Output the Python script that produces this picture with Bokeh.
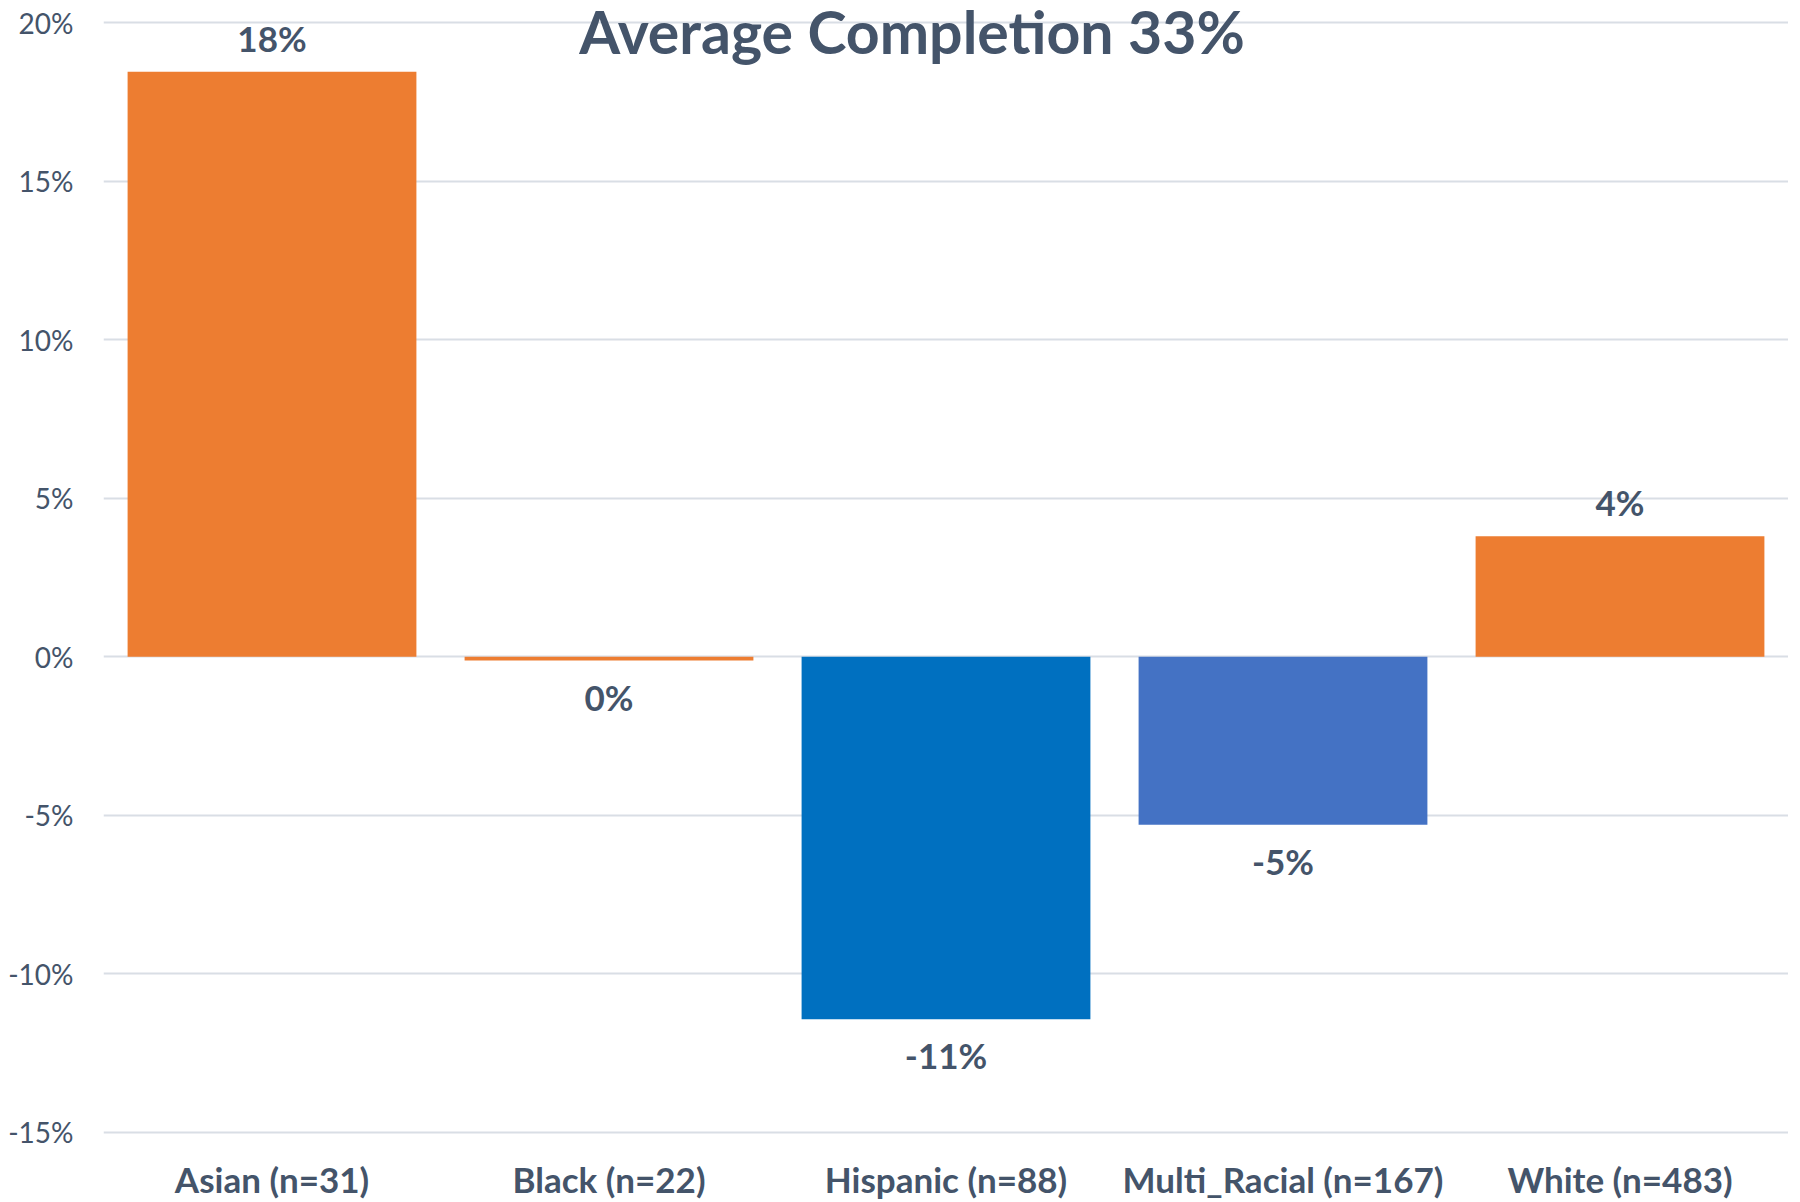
from bokeh.plotting import figure
from bokeh.models import ColumnDataSource, FactorRange, Range1d, FixedTicker, NumeralTickFormatter, Label
from bokeh.core.properties import value
from bokeh.embed import file_html
from bokeh.resources import INLINE

categories = ["Asian (n=31)", "Black (n=22)", "Hispanic (n=88)", "Multi_Racial (n=167)", "White (n=483)"]
values = [0.1845, -0.0012, -0.1143, -0.053, 0.038]
colors = ["#ED7D31", "#ED7D31", "#0070C0", "#4472C4", "#ED7D31"]
y_ticks = [-0.15, -0.10, -0.05, 0.0, 0.05, 0.10, 0.15, 0.20]
title_text = "Average Completion 33%"

TEXT = "#44546A"
FONT = "Lato"

labels = [f"{round(v * 100)}%" for v in values]
src = ColumnDataSource(dict(
    cat=categories, val=values, color=colors, label=labels,
    off=[-34 if v > 0 else 36 for v in values],
))

p = figure(
    x_range=FactorRange(*categories),
    y_range=Range1d(-0.15095, 0.20694),
    frame_width=1685, frame_height=1135,
    output_backend="svg", toolbar_location=None,
    min_border_left=103, min_border_right=0, min_border_top=0, min_border_bottom=54,
)
p.outline_line_color = None
p.background_fill_color = "white"
p.border_fill_color = "white"

p.vbar(x="cat", top="val", bottom=0, width=0.857, fill_color="color", line_color=None, source=src)

p.text(x="cat", y="val", text="label", y_offset="off", source=src,
       text_align="center", text_baseline="middle",
       text_font=value(FONT), text_font_size="35px", text_font_style="bold", text_color=TEXT)

p.add_layout(Label(x=2.399, y=0.1972, text=title_text, text_align="center", text_baseline="middle",
                   text_font=FONT, text_font_size="59px", text_font_style="bold", text_color=TEXT))

p.xgrid.grid_line_color = None
p.ygrid.grid_line_color = "#D9DEE5"
p.ygrid.grid_line_width = 2

p.yaxis.ticker = FixedTicker(ticks=y_ticks)
p.yaxis.formatter = NumeralTickFormatter(format="0%")
p.yaxis.axis_line_color = None
p.yaxis.major_tick_line_color = None
p.yaxis.minor_tick_line_color = None
p.yaxis.major_tick_out = 0
p.yaxis.major_tick_in = 0
p.yaxis.major_label_standoff = 30
p.yaxis.major_label_text_font = FONT
p.yaxis.major_label_text_font_size = "28px"
p.yaxis.major_label_text_color = TEXT

p.xaxis.axis_line_color = None
p.xaxis.major_tick_line_color = None
p.xaxis.minor_tick_line_color = None
p.xaxis.major_label_standoff = 16
p.xaxis.major_label_text_font = FONT
p.xaxis.major_label_text_font_size = "35px"
p.xaxis.major_label_text_font_style = "bold"
p.xaxis.major_label_text_color = TEXT

open("out.html", "w").write(file_html(p, INLINE))
